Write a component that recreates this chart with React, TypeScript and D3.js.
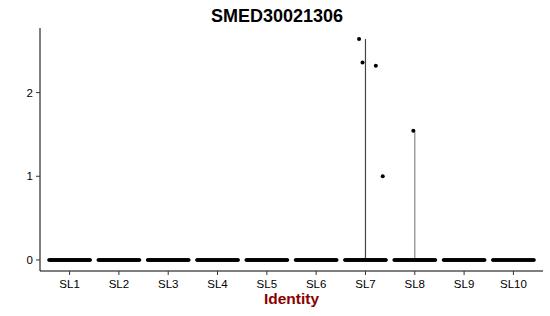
import React from "react";
import * as d3 from "d3";

const categories = ["SL1", "SL2", "SL3", "SL4", "SL5", "SL6", "SL7", "SL8", "SL9", "SL10"];
// number of cells with zero expression in each identity
const zeroCounts = [70, 70, 70, 70, 70, 70, 70, 70, 70, 60];
// nonzero expression values per identity
const nonzeroGroups = ["SL7", "SL7", "SL7", "SL7", "SL8"];
const nonzeroValues = [2.64, 2.36, 2.32, 1.0, 1.545];
const nonzeroJitter = [-0.13, -0.06, 0.21, 0.35, -0.03];
const yTicks = [0, 1, 2];
const title = "SMED30021306";
const xTitle = "Identity";

export default function App() {
  const W = 550, H = 316;
  const left = 40, right = 543, top = 28, bottom = 271;
  const yMax = d3.max(nonzeroValues) as number;
  const pad = yMax * 0.05;
  const y = d3.scaleLinear().domain([-pad, yMax + pad]).range([bottom, top]);
  const x = d3.scalePoint<string>().domain(categories).range([left, right]).padding(0.6);
  const bw = x.step();

  const zeroPts: { cx: number; cy: number }[] = [];
  categories.forEach((c, i) => {
    const n = zeroCounts[i];
    for (let k = 0; k < n; k++) {
      const off = -0.42 + (0.84 * k) / (n - 1);
      zeroPts.push({ cx: (x(c) as number) + off * bw, cy: y(0) });
    }
  });

  const violins = categories.map((c) => {
    const vals = nonzeroValues.filter((_, i) => nonzeroGroups[i] === c);
    return { c, max: vals.length ? (d3.max(vals) as number) : 0 };
  });

  return (
    <svg width={W} height={H} style={{ position: "absolute", left: 0, top: 0 }} fontFamily="Liberation Sans, Arial, sans-serif">
      <rect width={W} height={H} fill="#fff" />
      <text x={277} y={22} textAnchor="middle" fontWeight="bold" fontSize={18}>{title}</text>
      {violins.filter((v) => v.max > 0).map((v, i) => (
        <line key={v.c} x1={x(v.c)} x2={x(v.c)} y1={y(0)} y2={y(v.max)} stroke={i === 0 ? "#444" : "#888"} strokeWidth={1.2} />
      ))}
      {zeroPts.map((p, i) => (
        <circle key={i} cx={p.cx} cy={p.cy} r={1.7} fill="#000" />
      ))}
      {nonzeroValues.map((v, i) => (
        <circle key={"n" + i} cx={(x(nonzeroGroups[i]) as number) + nonzeroJitter[i] * bw} cy={y(v)} r={2} fill="#000" />
      ))}
      <line x1={left} x2={left} y1={top} y2={bottom} stroke="#000" strokeWidth={1} />
      <line x1={left} x2={right} y1={bottom} y2={bottom} stroke="#000" strokeWidth={1} />
      {yTicks.map((t) => (
        <g key={t}>
          <line x1={left - 4} x2={left} y1={y(t)} y2={y(t)} stroke="#333" />
          <text x={left - 7} y={y(t)} dy="0.35em" textAnchor="end" fontSize={11.5} fill="#000">{t}</text>
        </g>
      ))}
      {categories.map((c) => (
        <g key={c}>
          <line x1={x(c)} x2={x(c)} y1={bottom} y2={bottom + 4} stroke="#333" />
          <text x={x(c)} y={bottom + 17} textAnchor="middle" fontSize={11.5} fill="#000">{c}</text>
        </g>
      ))}
      <text x={(left + right) / 2} y={304} textAnchor="middle" fontWeight="bold" fontSize={15.5} fill="#8B0000">{xTitle}</text>
    </svg>
  );
}
